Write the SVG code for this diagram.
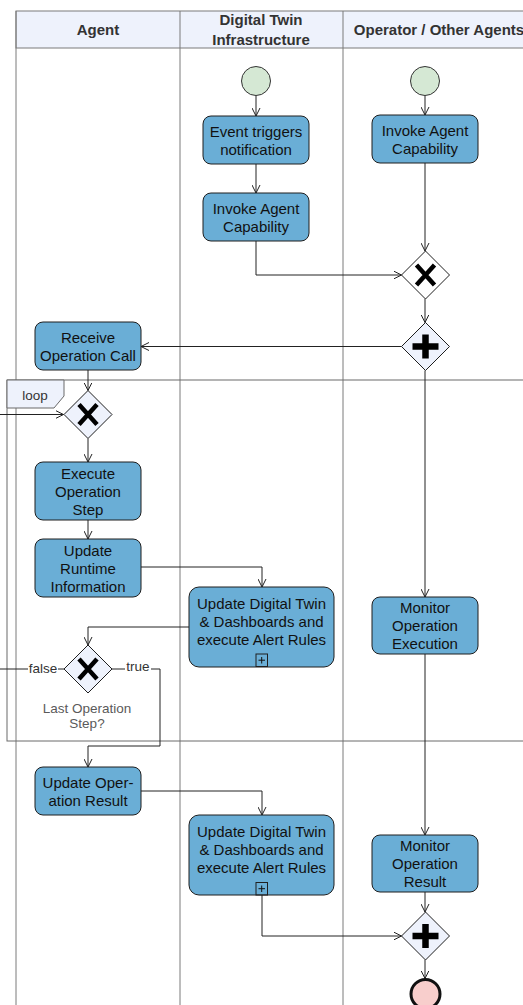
<svg xmlns="http://www.w3.org/2000/svg" width="523" height="1005" viewBox="0 0 523 1005">
  <style>
    .lane { fill: none; stroke: #7a7a7a; stroke-width: 1; }
    .hdr { fill: #eef2fc; stroke: #7a7a7a; stroke-width: 1; }
    .hdrtxt { font-family: "Liberation Sans", Arial, sans-serif; font-size: 15px; font-weight: bold; fill: #333; text-anchor: middle; }
    .task { fill: #6aaed6; stroke: #1f1f1f; stroke-width: 1; }
    .txt { font-family: "Liberation Sans", Arial, sans-serif; font-size: 15px; fill: #111; text-anchor: middle; }
    .lbl { font-family: "Liberation Sans", Arial, sans-serif; font-size: 13.5px; fill: #333; text-anchor: middle; }
    .glbl { font-family: "Liberation Sans", Arial, sans-serif; font-size: 13.5px; fill: #5a5a5a; text-anchor: middle; }
    .gw { fill: #eef2fc; stroke: #1f1f1f; stroke-width: 1; }
    .gwx { stroke: #000; stroke-width: 4.5; fill: none; }
    .gwp { stroke: #000; stroke-width: 6.5; fill: none; }
    .edge { fill: none; stroke: #222; stroke-width: 1; marker-end: url(#arr); }
    .frame { fill: none; stroke: #6a6a6a; stroke-width: 1; }
    .sub { fill: none; stroke: #1f1f1f; stroke-width: 1; }
  </style>
  <defs>
    <marker id="arr" viewBox="0 0 8 9" refX="8" refY="4.5" markerWidth="8" markerHeight="9" orient="auto" markerUnits="userSpaceOnUse">
      <path d="M0,0.5 L8,4.5 L0,8.5" fill="none" stroke="#222" stroke-width="1"/>
    </marker>
  </defs>

  <rect width="523" height="1005" fill="#ffffff"/>

  <!-- swimlanes -->
  <g id="lanes">
    <rect class="hdr" x="16" y="11" width="600" height="37"/>
    <line class="lane" x1="16" y1="11" x2="16" y2="1005"/>
    <line class="lane" x1="180" y1="11" x2="180" y2="1005"/>
    <line class="lane" x1="343" y1="11" x2="343" y2="1005"/>
    <text class="hdrtxt" x="98" y="35">Agent</text>
    <text class="hdrtxt" x="261" y="25">Digital Twin</text>
    <text class="hdrtxt" x="261" y="45">Infrastructure</text>
    <text class="hdrtxt" x="439" y="35">Operator / Other Agents</text>
  </g>

  <!-- loop fragment -->
  <g id="loop">
    <rect class="frame" x="7" y="380" width="620" height="361"/>
    <polygon points="7,380 64,380 64,396 54,408 7,408" fill="#eef2fc" stroke="#6a6a6a" stroke-width="1"/>
    <text class="lbl" x="35" y="400">loop</text>
  </g>

  <!-- connectors -->
  <g id="connectors">
    <path class="edge" d="M256,95.5 V116"/>
    <path class="edge" d="M256,164 V193"/>
    <path class="edge" d="M256,241 V275 H401.5"/>
    <path class="edge" d="M425,95.5 V115"/>
    <path class="edge" d="M425,163 V251"/>
    <path class="edge" d="M425,299 V322.5"/>
    <path class="edge" d="M401.5,346.5 H141"/>
    <path class="edge" d="M425,370.5 V597"/>
    <path class="edge" d="M88,370 V390.5"/>
    <path class="edge" d="M88,438.5 V462"/>
    <path class="edge" d="M88,520 V539"/>
    <path class="edge" d="M141,567 H262 V587"/>
    <path class="edge" d="M189,627 H88 V645"/>
    <path class="edge" d="M64,669 H-10 V414.5 H63.5"/>
    <path class="edge" d="M112,669 H160 V746 H88 V767"/>
    <path class="edge" d="M141,791 H262 V815"/>
    <path class="edge" d="M262,895 V936 H401.5"/>
    <path class="edge" d="M425,654 V835"/>
    <path class="edge" d="M425,892 V912"/>
    <path class="edge" d="M425,960 V978.5"/>
    <!-- edge labels -->
    <rect x="28" y="660" width="30" height="16" fill="#ffffff"/>
    <text class="lbl" x="43" y="673">false</text>
    <rect x="125" y="658" width="26" height="16" fill="#ffffff"/>
    <text class="lbl" x="138" y="671">true</text>
  </g>

  <!-- events -->
  <g id="start-dt">
    <circle cx="256" cy="81" r="14.5" fill="#d5e8d4" stroke="#333" stroke-width="1"/>
  </g>
  <g id="start-op">
    <circle cx="425" cy="81" r="14.5" fill="#d5e8d4" stroke="#333" stroke-width="1"/>
  </g>
  <g id="end">
    <circle cx="425.5" cy="994" r="14.5" fill="#f8cecc" stroke="#111" stroke-width="3"/>
  </g>

  <!-- tasks -->
  <g id="event-triggers">
    <rect class="task" x="203" y="116" width="106" height="48" rx="8"/>
    <text class="txt" x="256" y="136.5">Event triggers</text>
    <text class="txt" x="256" y="154.5">notification</text>
  </g>
  <g id="invoke-dt">
    <rect class="task" x="203" y="193" width="106" height="48" rx="8"/>
    <text class="txt" x="256" y="213.5">Invoke Agent</text>
    <text class="txt" x="256" y="231.5">Capability</text>
  </g>
  <g id="invoke-op">
    <rect class="task" x="372" y="115" width="106" height="48" rx="8"/>
    <text class="txt" x="425" y="135.5">Invoke Agent</text>
    <text class="txt" x="425" y="153.5">Capability</text>
  </g>
  <g id="receive-call">
    <rect class="task" x="35" y="322" width="106" height="48" rx="8"/>
    <text class="txt" x="88" y="342.5">Receive</text>
    <text class="txt" x="88" y="360.5">Operation Call</text>
  </g>
  <g id="execute-step">
    <rect class="task" x="35" y="462" width="106" height="58" rx="8"/>
    <text class="txt" x="88" y="478.5">Execute</text>
    <text class="txt" x="88" y="496.5">Operation</text>
    <text class="txt" x="88" y="514.5">Step</text>
  </g>
  <g id="update-runtime">
    <rect class="task" x="35" y="539" width="106" height="58" rx="8"/>
    <text class="txt" x="88" y="555.5">Update</text>
    <text class="txt" x="88" y="573.5">Runtime</text>
    <text class="txt" x="88" y="591.5">Information</text>
  </g>
  <g id="update-dt-1">
    <rect class="task" x="189" y="587" width="145" height="80" rx="10"/>
    <text class="txt" x="261.5" y="608.5">Update Digital Twin</text>
    <text class="txt" x="261.5" y="626.5">&amp; Dashboards and</text>
    <text class="txt" x="261.5" y="644.5">execute Alert Rules</text>
    <rect class="sub" x="256" y="654" width="11.5" height="12.5"/>
    <path d="M258.5,660.2 H265 M261.7,657 V663.5" stroke="#111" stroke-width="1" fill="none"/>
  </g>
  <g id="monitor-exec">
    <rect class="task" x="372" y="597" width="106" height="57" rx="8"/>
    <text class="txt" x="425" y="613">Monitor</text>
    <text class="txt" x="425" y="631">Operation</text>
    <text class="txt" x="425" y="649">Execution</text>
  </g>
  <g id="update-result">
    <rect class="task" x="35" y="767" width="106" height="48" rx="8"/>
    <text class="txt" x="88" y="787.5">Update Oper-</text>
    <text class="txt" x="88" y="805.5">ation Result</text>
  </g>
  <g id="update-dt-2">
    <rect class="task" x="189" y="815" width="145" height="80" rx="10"/>
    <text class="txt" x="261.5" y="836.5">Update Digital Twin</text>
    <text class="txt" x="261.5" y="854.5">&amp; Dashboards and</text>
    <text class="txt" x="261.5" y="872.5">execute Alert Rules</text>
    <rect class="sub" x="256" y="882.5" width="11.5" height="12.5"/>
    <path d="M258.5,888.7 H265 M261.7,885.5 V892" stroke="#111" stroke-width="1" fill="none"/>
  </g>
  <g id="monitor-result">
    <rect class="task" x="372" y="835" width="106" height="57" rx="8"/>
    <text class="txt" x="425" y="851">Monitor</text>
    <text class="txt" x="425" y="869">Operation</text>
    <text class="txt" x="425" y="887">Result</text>
  </g>

  <!-- gateways -->
  <g id="gw-merge">
    <polygon points="425.5,251 449.5,275 425.5,299 401.5,275" fill="#ffffff" stroke="#1f1f1f" stroke-width="1"/>
    <path class="gwx" d="M416.5,265 L434.5,285 M434.5,265 L416.5,285"/>
  </g>
  <g id="gw-fork">
    <polygon class="gw" points="425.5,322.5 449.5,346.5 425.5,370.5 401.5,346.5"/>
    <path class="gwp" d="M412.5,346.5 H438.5 M425.5,334.5 V358.5"/>
  </g>
  <g id="gw-loop">
    <polygon class="gw" points="88,390.5 112,414.5 88,438.5 64,414.5"/>
    <path class="gwx" d="M79,404.5 L97,424.5 M97,404.5 L79,424.5"/>
  </g>
  <g id="gw-last-step">
    <polygon class="gw" points="88,645 112,669 88,693 64,669"/>
    <path class="gwx" d="M79,659 L97,679 M97,659 L79,679"/>
    <text class="glbl" x="87" y="713">Last Operation</text>
    <text class="glbl" x="87" y="728">Step?</text>
  </g>
  <g id="gw-join">
    <polygon class="gw" points="425.5,912 449.5,936 425.5,960 401.5,936"/>
    <path class="gwp" d="M412.5,936 H438.5 M425.5,924 V948"/>
  </g>
</svg>
